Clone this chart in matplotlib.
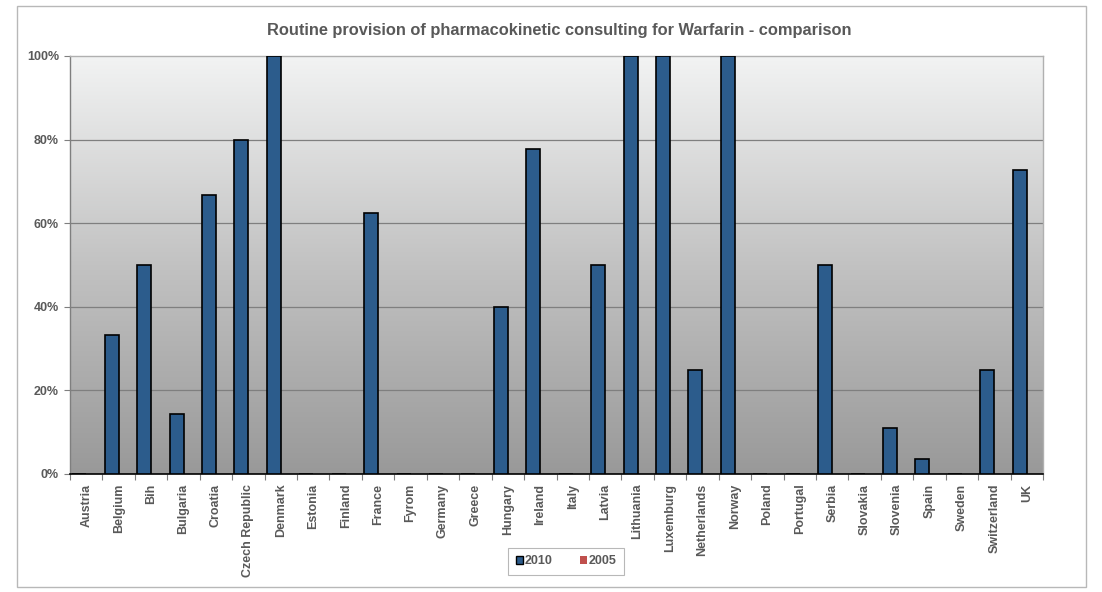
import numpy as np
import matplotlib
matplotlib.use("Agg")
import matplotlib.pyplot as plt
from matplotlib.patches import Rectangle, Patch
from matplotlib.colors import LinearSegmentedColormap

countries = ["Austria", "Belgium", "Bih", "Bulgaria", "Croatia", "Czech Republic",
             "Denmark", "Estonia", "Finland", "France", "Fyrom", "Germany", "Greece",
             "Hungary", "Ireland", "Italy", "Latvia", "Lithuania", "Luxemburg",
             "Netherlands", "Norway", "Poland", "Portugal", "Serbia", "Slovakia",
             "Slovenia", "Spain", "Sweden", "Switzerland", "UK"]
values_2010 = [0, 33.3, 50, 14.3, 66.7, 80, 100, 0, 0, 62.5, 0, 0, 0, 40, 77.8, 0,
               50, 100, 100, 25, 100, 0, 0, 50, 0, 11.1, 3.6, 0, 25, 72.7]
values_2005 = [0] * 30
series_names = ["2010", "2005"]
yticks = [0, 20, 40, 60, 80, 100]
title = "Routine provision of pharmacokinetic consulting for Warfarin - comparison"

plt.rcParams["font.family"] = ["Liberation Sans", "DejaVu Sans"]

TXT = "#595959"
fig = plt.figure(figsize=(11.02, 5.92), dpi=100)
W, H = 1102, 592

# outer frame
fig.patches.append(Rectangle((17 / W, 1 - 587 / H), (1086 - 17) / W, (587 - 6) / H,
                             transform=fig.transFigure, fill=False,
                             edgecolor="#b8b8b8", linewidth=1.0))

ax = fig.add_axes([70 / W, 1 - 474 / H, (1043 - 70) / W, (474 - 56) / H])

# gradient background
cmap = LinearSegmentedColormap.from_list("bg", ["#999999", "#c2c2c2", "#f2f3f3"])
grad = np.linspace(0, 1, 256).reshape(-1, 1)
ax.imshow(grad, cmap=cmap, aspect="auto", extent=[0, 1, 0, 1],
          transform=ax.transAxes, origin="lower", zorder=0)

n = len(countries)
x = np.arange(n)
bw = 0.432
ax.bar(x - 0.216, values_2010, width=bw, color="#2c5c8c", edgecolor="black",
       linewidth=1.2, zorder=3, label=series_names[0])
ax.bar(x + 0.216, values_2005, width=bw, color="#c0504d", linewidth=0,
       zorder=3, label=series_names[1])

ax.set_xlim(-0.5, n - 0.5)
ax.set_ylim(0, 100)

for yv in yticks[1:-1]:
    ax.axhline(yv, color="#7f7f7f", linewidth=0.9, zorder=1)

ax.set_yticks(yticks)
ax.set_yticklabels([f"{v}%" for v in yticks], fontsize=9, fontweight="bold", color=TXT)
ax.tick_params(axis="y", length=4, width=0.8, color="#7f7f7f", pad=4)

ax.set_xticks(x)
ax.set_xticklabels(countries, rotation=90, fontsize=9, fontweight="bold", color=TXT)
ax.tick_params(axis="x", which="major", length=0, pad=7)
ax.set_xticks(np.arange(-0.5, n, 1), minor=True)
ax.tick_params(axis="x", which="minor", length=4, width=0.8, color="#7f7f7f")

ax.spines["top"].set_color("#b0b0b0")
ax.spines["right"].set_color("#b0b0b0")
ax.spines["left"].set_color("#7f7f7f")
ax.spines["bottom"].set_color("black")
ax.spines["bottom"].set_linewidth(1.2)
for s in ["top", "right", "left"]:
    ax.spines[s].set_linewidth(1.0)

fig.text(559 / W, 1 - 30 / H, title, ha="center", va="center", fontsize=11.8,
         fontweight="bold", color=TXT)

handles = [Patch(facecolor="#2c5c8c", edgecolor="black", linewidth=1.0),
           Patch(facecolor="#c0504d", edgecolor="none")]
leg = fig.legend(handles, series_names, loc="center", bbox_to_anchor=(566 / W, 1 - 561 / H),
                 ncol=2, frameon=True, fancybox=False, handlelength=0.6,
                 handleheight=0.6, handletextpad=0.1, columnspacing=2.2,
                 borderpad=0.6, prop={"weight": "bold", "size": 9})
leg.get_frame().set_edgecolor("#a6a6a6")
leg.get_frame().set_linewidth(0.8)
for t in leg.get_texts():
    t.set_color(TXT)

fig.savefig("out.png", dpi=100)
